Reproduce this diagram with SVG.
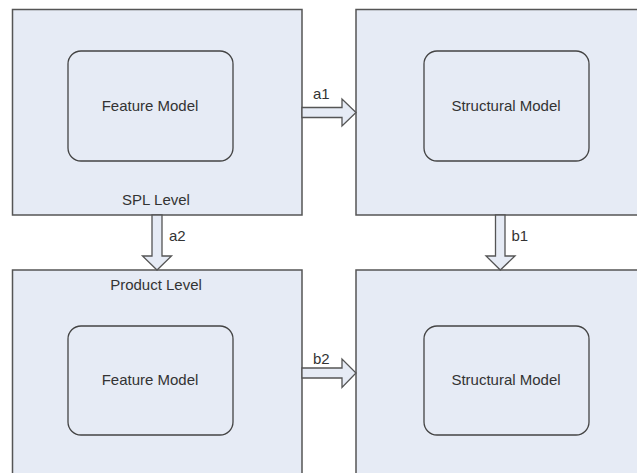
<svg xmlns="http://www.w3.org/2000/svg" width="637" height="473" viewBox="0 0 637 473">
<style>
.box{fill:#e6ebf5;stroke:#555;stroke-width:1.5}
.inner{fill:#e6ebf5;stroke:#444;stroke-width:1.3}
.arr{fill:#e6ebf5;stroke:#555;stroke-width:1.3;stroke-linejoin:miter}
text{font-family:"Liberation Sans",Arial,sans-serif;font-size:15px;fill:#333}
.c{text-anchor:middle}
</style>
<rect width="637" height="473" fill="#fff"/>
<g id="spl-level">
<rect class="box" x="12.5" y="9.5" width="289.5" height="205.5"/>
<text class="c" x="156" y="205">SPL Level</text>
</g>
<g id="spl-feature-model">
<rect class="inner" x="68" y="51" width="165" height="110" rx="13"/>
<text class="c" x="150" y="110.5">Feature Model</text>
</g>
<g id="spl-structural">
<rect class="box" x="356" y="9.5" width="290" height="205.5"/>
</g>
<g id="spl-structural-model">
<rect class="inner" x="424" y="51" width="165" height="110" rx="13"/>
<text class="c" x="506" y="110.5">Structural Model</text>
</g>
<g id="product-level">
<rect class="box" x="12.5" y="270" width="289.5" height="215"/>
<text class="c" x="156" y="290">Product Level</text>
</g>
<g id="product-feature-model">
<rect class="inner" x="68" y="326" width="165" height="109" rx="13"/>
<text class="c" x="150" y="385">Feature Model</text>
</g>
<g id="product-structural">
<rect class="box" x="356" y="270" width="290" height="215"/>
</g>
<g id="product-structural-model">
<rect class="inner" x="424" y="326" width="165" height="109" rx="13"/>
<text class="c" x="506" y="385">Structural Model</text>
</g>
<g id="connectors">
<polygon class="arr" points="302,107.5 342,107.5 342,99 356,112.5 342,126 342,117.5 302,117.5"/>
<text x="313" y="99">a1</text>
<polygon class="arr" points="152,215 152,256 142.5,256 157,270 171.5,256 162,256 162,215"/>
<text x="169" y="241">a2</text>
<polygon class="arr" points="495.5,215 495.5,256 486,256 500.3,270 515,256 505,256 505,215"/>
<text x="511.5" y="241">b1</text>
<polygon class="arr" points="302,368 342,368 342,359 356,373 342,387.5 342,378 302,378"/>
<text x="313" y="364">b2</text>
</g>
</svg>
